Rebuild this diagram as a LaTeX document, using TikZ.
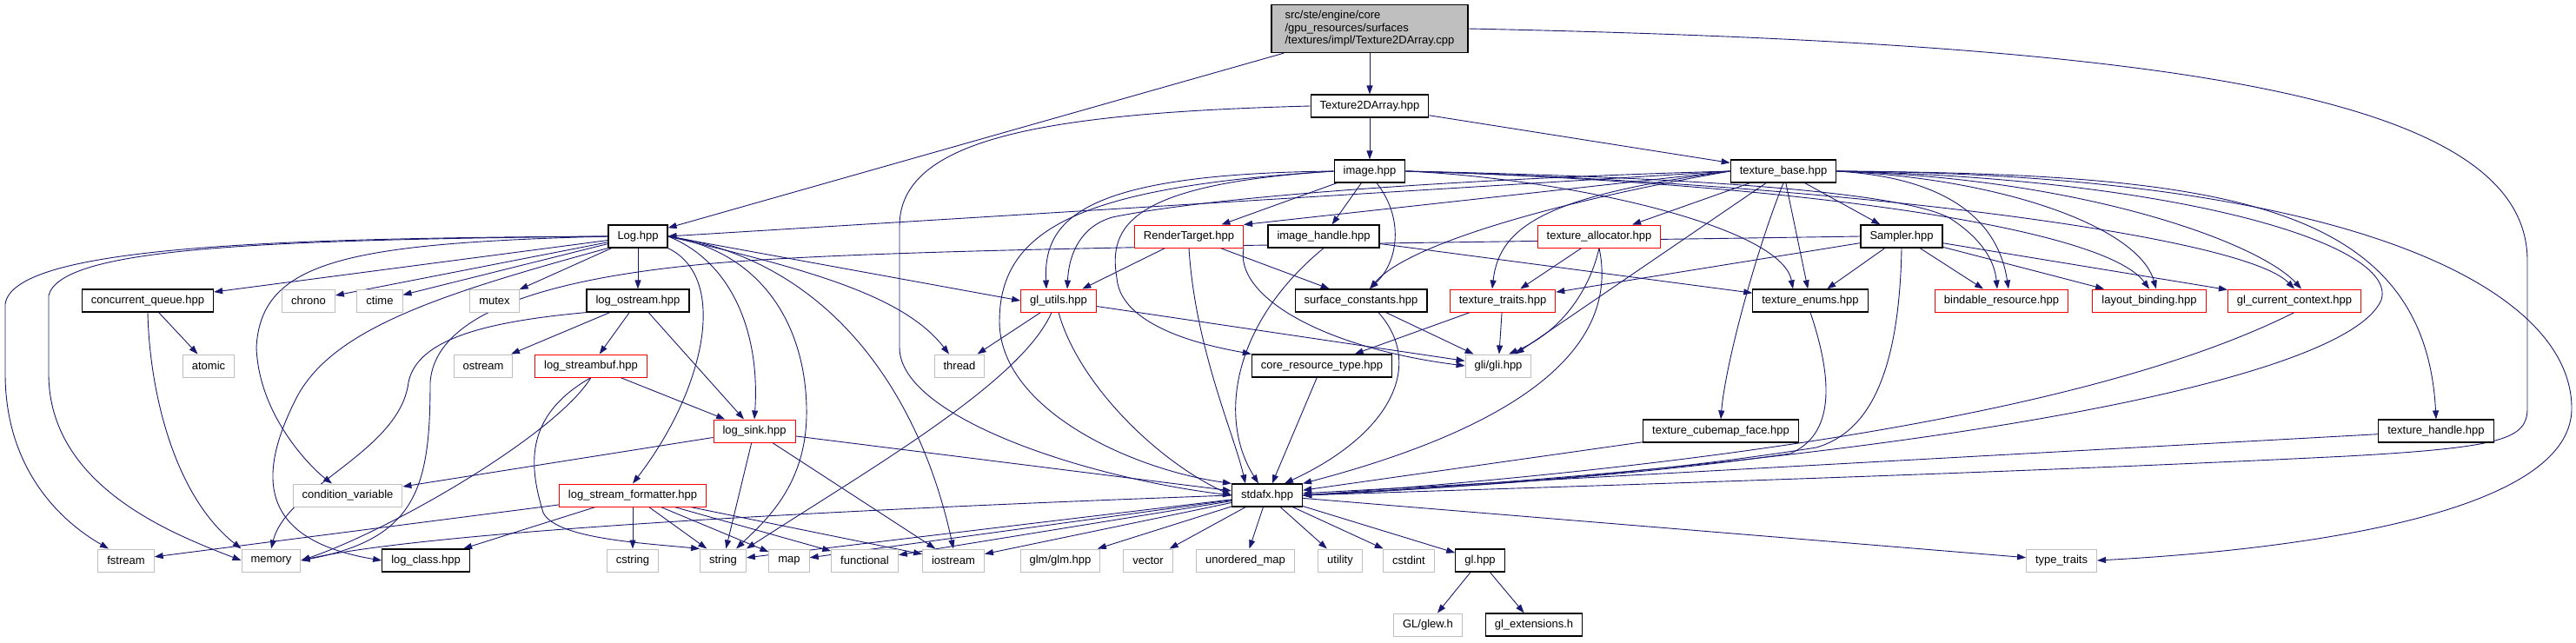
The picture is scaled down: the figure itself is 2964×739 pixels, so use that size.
\documentclass[tikz,border=0pt]{standalone}
\usepackage{fontspec}
\setmainfont{Liberation Sans}
\usetikzlibrary{arrows.meta, backgrounds}
\definecolor{depblue}{RGB}{25,25,112}
\definecolor{sysgray}{RGB}{191,191,191}
\definecolor{truncred}{RGB}{255,0,0}

\begin{document}
\begin{tikzpicture}[
  x=1pt, y=-1pt,
  box/.style      = {draw=black, line width=1.2pt, fill=white, rectangle,
                     minimum height=26pt, inner xsep=10.5pt, inner ysep=0pt,
                     font=\fontsize{13}{14.5}\selectfont},
  sysbox/.style   = {box, draw=sysgray, line width=1pt},
  redbox/.style   = {box, draw=truncred, line width=1pt},
  rootbox/.style  = {box, fill=sysgray, align=left, minimum width=226pt, minimum height=55pt},
  arrow/.style    = {-{Triangle[length=10pt, width=7pt]}, line width=0.9pt, draw=depblue},
]
\useasboundingbox (0,0) rectangle (2964,739);

%% ==================== ROOT AND FIRST LEVELS ====================
\node[rootbox] (main) at (1576,33)
      {src/ste/engine/core\\/gpu\_resources/surfaces\\/textures/impl/Texture2DArray.cpp};
\node[box] (t2da)    at (1576,122) {Texture2DArray.hpp};
\node[box] (image)   at (1576,197) {image.hpp};
\node[box] (texbase) at (2052,197) {texture\_base.hpp};

%% row 4
\node[box]    (log)          at (734,272)  {Log.hpp};
\node[redbox] (rendertarget) at (1368,272) {RenderTarget.hpp};
\node[box]    (imagehandle)  at (1523,272) {image\_handle.hpp};
\node[redbox] (texalloc)     at (1840,272) {texture\_allocator.hpp};
\node[box]    (sampler)      at (2188,272) {Sampler.hpp};

%% row 5
\node[box]    (cqueue)     at (170,346)  {concurrent\_queue.hpp};
\node[sysbox] (chrono)     at (355,346)  {chrono};
\node[sysbox] (ctime)      at (437,346)  {ctime};
\node[sysbox] (mutex)      at (569,346)  {mutex};
\node[box]    (logostream) at (734,346)  {log\_ostream.hpp};
\node[redbox] (glutils)    at (1218,346) {gl\_utils.hpp};
\node[box]    (surfconst)  at (1566,346) {surface\_constants.hpp};
\node[redbox] (textraits)  at (1729,346) {texture\_traits.hpp};
\node[box]    (texenums)   at (2083,346) {texture\_enums.hpp};
\node[redbox] (bindable)   at (2303,346) {bindable\_resource.hpp};
\node[redbox] (layout)     at (2473,346) {layout\_binding.hpp};
\node[redbox] (glcurctx)   at (2640,346) {gl\_current\_context.hpp};

%% row 6
\node[sysbox] (atomic)       at (240,421)  {atomic};
\node[sysbox] (ostream)      at (556,421)  {ostream};
\node[redbox] (logstreambuf) at (680,421)  {log\_streambuf.hpp};
\node[sysbox] (thread)       at (1104,421) {thread};
\node[box]    (coreres)      at (1521,421) {core\_resource\_type.hpp};
\node[sysbox] (gli)          at (1724,421) {gli/gli.hpp};

%% row 7
\node[redbox] (logsink)   at (868,496)  {log\_sink.hpp};
\node[box]    (cubemap)   at (1980,496) {texture\_cubemap\_face.hpp};
\node[box]    (texhandle) at (2803,496) {texture\_handle.hpp};

%% row 8
\node[sysbox] (condvar)   at (400,570)  {condition\_variable};
\node[redbox] (formatter) at (728,570)  {log\_stream\_formatter.hpp};
\node[box]    (stdafx)    at (1458,570) {stdafx.hpp};

%% row 9
\node[sysbox] (fstream)    at (145,645)  {fstream};
\node[sysbox] (memory)     at (312,645)  {memory};
\node[box]    (logclass)   at (490,645)  {log\_class.hpp};
\node[sysbox] (cstring)    at (728,645)  {cstring};
\node[sysbox] (string)     at (832,645)  {string};
\node[sysbox] (map)        at (908,645)  {map};
\node[sysbox] (functional) at (995,645)  {functional};
\node[sysbox] (iostream)   at (1097,645) {iostream};
\node[sysbox] (glm)        at (1220,645) {glm/glm.hpp};
\node[sysbox] (vector)     at (1321,645) {vector};
\node[sysbox] (umap)       at (1433,645) {unordered\_map};
\node[sysbox] (utility)    at (1542,645) {utility};
\node[sysbox] (cstdint)    at (1621,645) {cstdint};
\node[box]    (glhpp)      at (1703,645) {gl.hpp};
\node[sysbox] (typetraits) at (2372,645) {type\_traits};

%% row 10
\node[sysbox] (glew) at (1643,719) {GL/glew.h};
\node[box]    (glext) at (1765,719) {gl\_extensions.h};

\begin{scope}[on background layer]
%% ==================== ROOT ====================
\draw[arrow] (main) -- (t2da);
\draw[arrow] (main) -- (log);
\draw[arrow] (main.east) .. controls (2500,50) and (2908,110) .. (2908,300) -- (2908,470)
      .. controls (2908,505) and (2880,515) .. (2700,525) .. controls (2300,545) and (1800,560) .. (stdafx.east);

%% Texture2DArray.hpp
\draw[arrow] (t2da) -- (image);
\draw[arrow] (t2da) -- (texbase);
\draw[arrow] (t2da.west) .. controls (1200,130) and (1035,160) .. (1035,260) -- (1035,400)
      .. controls (1035,480) and (1250,550) .. (stdafx.west);

%% image.hpp
\draw[arrow] (image) -- (rendertarget);
\draw[arrow] (image) -- (imagehandle);
\draw[arrow] ([xshift=8pt]image.south) .. controls (1615,250) and (1610,300) .. ([xshift=10pt]surfconst.north);
\draw[arrow] (image.west) .. controls (1250,200) and (1200,250) .. ([xshift=-14pt]glutils.north);
\draw[arrow] (image.west) .. controls (1250,215) and (1150,260) .. (1150,370)
      .. controls (1150,470) and (1300,540) .. (stdafx.north west);
\draw[arrow] (image.west) .. controls (1300,212) and (1275,260) .. (1285,320)
      .. controls (1290,380) and (1400,400) .. (coreres.north west);
\draw[arrow] (image.east) .. controls (1800,205) and (2050,260) .. ([xshift=-20pt]texenums.north);
\draw[arrow] (image.east) .. controls (2000,205) and (2200,225) .. (2245,252)
      .. controls (2280,275) and (2295,300) .. ([xshift=-5pt]bindable.north);
\draw[arrow] (image.east) .. controls (2050,210) and (2420,260) .. (layout.north);
\draw[arrow] (image.east) .. controls (2100,210) and (2580,270) .. (glcurctx.north);

%% texture_base.hpp
\draw[arrow] (texbase.west) -- (log.east);
\draw[arrow] (texbase.west) -- (rendertarget.north east);
\draw[arrow] (texbase.west) .. controls (1700,205) and (1400,225) .. (1280,250)
      .. controls (1245,260) and (1230,290) .. ([xshift=10pt]glutils.north);
\draw[arrow] (texbase.west) .. controls (1800,230) and (1620,280) .. ([xshift=10pt]surfconst.north);
\draw[arrow] (texbase.west) .. controls (1780,225) and (1725,260) .. ([xshift=-12pt]textraits.north);
\draw[arrow] (texbase) -- (texalloc);
\draw[arrow] (texbase) -- (gli);
\draw[arrow] (texbase) -- (texenums);
\draw[arrow] (texbase) -- (sampler);
\draw[arrow] (texbase.south) .. controls (2020,290) and (1985,420) .. (cubemap.north);
\draw[arrow] (texbase.east) .. controls (2250,205) and (2300,260) .. ([xshift=8pt]bindable.north);
\draw[arrow] (texbase.east) .. controls (2300,205) and (2460,260) .. ([xshift=8pt]layout.north);
\draw[arrow] (texbase.east) .. controls (2400,205) and (2600,280) .. ([xshift=8pt]glcurctx.north);
\draw[arrow] (texbase.east) .. controls (2550,200) and (2790,230) .. (texhandle.north);
\draw[arrow] (texbase.east) .. controls (2500,205) and (2760,280) .. (2740,345)
      .. controls (2700,440) and (2200,530) .. (stdafx.east);
\draw[arrow] (texbase.east) .. controls (2700,200) and (2959,330) .. (2959,470)
      .. controls (2959,600) and (2600,635) .. (typetraits.east);

%% Sampler.hpp
\draw[arrow] (sampler) -- (textraits);
\draw[arrow] (sampler) -- (texenums);
\draw[arrow] (sampler) -- (bindable);
\draw[arrow] (sampler) -- (layout);
\draw[arrow] (sampler) -- (glcurctx);
\draw[arrow] (sampler.south) .. controls (2185,450) and (2140,500) .. (2090,515)
      .. controls (1900,545) and (1700,560) .. (stdafx.east);
\draw[arrow] (sampler.west) .. controls (1500,282) and (1000,285) .. (800,305)
      .. controls (600,325) and (500,370) .. (495,440) .. controls (495,560) and (480,620) .. (memory.east);

%% ==================== Log.hpp ====================
\draw[arrow] (log) -- (cqueue);
\draw[arrow] (log) -- (chrono);
\draw[arrow] (log) -- (ctime);
\draw[arrow] (log) -- (mutex);
\draw[arrow] (log) -- (logostream);
\draw[arrow] (log.west) .. controls (300,274) and (15,285) .. (6,350) -- (6,430)
      .. controls (6,540) and (70,600) .. ([xshift=-20pt]fstream.north);
\draw[arrow] (log.west) .. controls (300,276) and (70,285) .. (56,340) -- (56,430)
      .. controls (56,560) and (200,615) .. (memory.west);
\draw[arrow] (log.west) .. controls (400,280) and (300,300) .. (295,400)
      .. controls (298,480) and (360,540) .. ([xshift=-18pt]condvar.north);
\draw[arrow] (log.south west) .. controls (500,340) and (380,380) .. (340,460)
      .. controls (300,540) and (290,620) .. (logclass.west);
\draw[arrow] (log.south east) .. controls (840,320) and (810,450) .. (formatter.north);
\draw[arrow] (log.east) .. controls (840,300) and (875,380) .. (logsink.north);
\draw[arrow] (log.east) .. controls (880,290) and (930,380) .. (928,480)
      .. controls (926,560) and (880,600) .. ([xshift=15pt]string.north);
\draw[arrow] (log.east) .. controls (960,300) and (1060,460) .. (iostream.north);
\draw[arrow] (log.east) -- (glutils.west);
\draw[arrow] (log.east) .. controls (930,310) and (1040,340) .. ([xshift=-12pt]thread.north);

%% logging helpers
\draw[arrow] (cqueue) -- (atomic);
\draw[arrow] (cqueue.south) .. controls (172,450) and (200,570) .. (memory.north west);
\draw[arrow] (logostream) -- (ostream);
\draw[arrow] (logostream) -- (logstreambuf);
\draw[arrow] (logostream) -- (logsink);
\draw[arrow] (logostream.south west) .. controls (560,370) and (480,390) .. (470,440)
      .. controls (460,520) and (330,560) .. (memory.north);
\draw[arrow] (logstreambuf) -- (logsink);
\draw[arrow] (logstreambuf.south) .. controls (640,500) and (450,610) .. (memory.east);
\draw[arrow] (logstreambuf.south) .. controls (600,480) and (610,540) .. (625,590)
      .. controls (640,620) and (740,625) .. (string.north west);
\draw[arrow] (logsink) -- (condvar);
\draw[arrow] (logsink) -- (string);
\draw[arrow] (logsink) -- (iostream);
\draw[arrow] (logsink) -- (stdafx);
\draw[arrow] (formatter) -- (fstream);
\draw[arrow] (formatter) -- (logclass);
\draw[arrow] (formatter) -- (cstring);
\draw[arrow] (formatter) -- (string);
\draw[arrow] (formatter) -- (map);
\draw[arrow] (formatter) -- (functional);
\draw[arrow] (formatter) -- (iostream);

%% ==================== GPU HEADERS ====================
\draw[arrow] (glutils) -- (thread);
\draw[arrow] (glutils) -- (gli);
\draw[arrow] (glutils.south) .. controls (1240,440) and (1330,530) .. (stdafx.west);
\draw[arrow] ([xshift=-8pt]glutils.south) .. controls (1175,440) and (1000,540) .. (string.north east);
\draw[arrow] (rendertarget) -- (glutils);
\draw[arrow] (rendertarget) -- (surfconst);
\draw[arrow] (rendertarget.south) .. controls (1375,400) and (1420,500) .. ([xshift=-25pt]stdafx.north);
\draw[arrow] (rendertarget.south east) .. controls (1420,340) and (1520,400) .. (gli.west);
\draw[arrow] (imagehandle) -- (texenums);
\draw[arrow] (imagehandle.south) .. controls (1420,370) and (1400,480) .. ([xshift=-10pt]stdafx.north);
\draw[arrow] (texalloc) -- (textraits);
\draw[arrow] (texalloc.south) .. controls (1830,330) and (1800,380) .. ([xshift=12pt]gli.north);
\draw[arrow] (texalloc.south) .. controls (1860,380) and (1790,480) .. (stdafx.north east);
\draw[arrow] (surfconst) -- (gli);
\draw[arrow] ([xshift=20pt]surfconst.south) .. controls (1640,420) and (1600,500) .. ([xshift=20pt]stdafx.north);
\draw[arrow] (textraits) -- (coreres);
\draw[arrow] (textraits) -- (gli);
\draw[arrow] (coreres) -- (stdafx);
\draw[arrow] (texenums.south) .. controls (2110,440) and (2110,500) .. (2060,522)
      .. controls (1900,545) and (1700,560) .. (stdafx.east);
\draw[arrow] (glcurctx.south) .. controls (2500,430) and (2200,520) .. (stdafx.east);
\draw[arrow] (cubemap) -- (stdafx);
\draw[arrow] (texhandle) -- (stdafx);

%% ==================== stdafx.hpp ====================
\draw[arrow] (stdafx.west) .. controls (1000,585) and (500,610) .. (memory.east);
\draw[arrow] (stdafx) -- (string);
\draw[arrow] (stdafx) -- (map);
\draw[arrow] (stdafx) -- (functional);
\draw[arrow] (stdafx) -- (iostream);
\draw[arrow] (stdafx) -- (glm);
\draw[arrow] (stdafx) -- (vector);
\draw[arrow] (stdafx) -- (umap);
\draw[arrow] (stdafx) -- (utility);
\draw[arrow] (stdafx) -- (cstdint);
\draw[arrow] (stdafx) -- (glhpp);
\draw[arrow] (stdafx) -- (typetraits);
\draw[arrow] (glhpp) -- (glew);
\draw[arrow] (glhpp) -- (glext);
\end{scope}

\end{tikzpicture}
\end{document}
